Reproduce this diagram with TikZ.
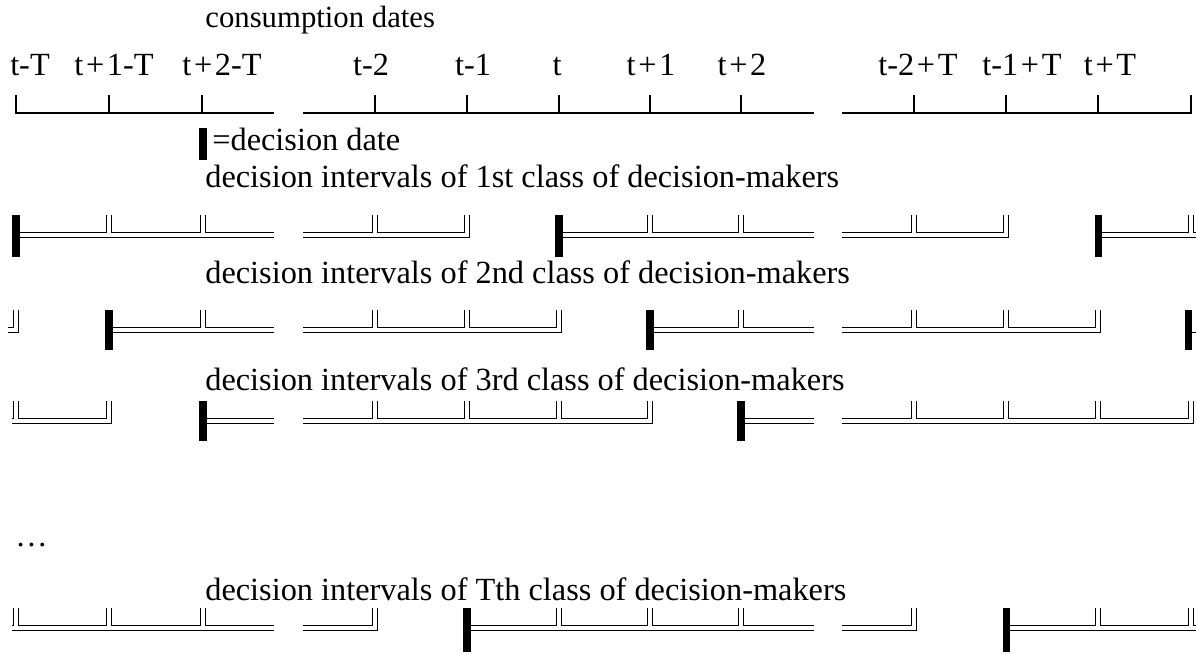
\documentclass[tikz,border=0pt]{standalone}
\usepackage{fontspec}
\setmainfont{Liberation Serif}
\usetikzlibrary{positioning}

\newcommand{\pl}{\kern1.5pt+\kern1.5pt}

\begin{document}
\begin{tikzpicture}[
    x=0.02cm, y=-0.02cm,
    every node/.style={font=\fontsize{18.4}{22}\selectfont, inner sep=0pt},
    datelabel/.style={anchor=base},
    rowlabel/.style={anchor=base west},
    axis/.style={line width=0.8pt},
    interval/.style={double, double distance=2pt, line width=0.7pt},
    decision/.style={line width=4pt}
]
\useasboundingbox (0,0) rectangle (1196,654);

% Consumption dates
\node[rowlabel, font=\fontsize{17.5}{21}\selectfont] (cons) at (205,27) {consumption dates};
\node[datelabel] (d1) at (30,75) {t-T};
\node[datelabel] (d2) at (114,75) {t\pl 1-T};
\node[datelabel] (d3) at (222,75) {t\pl 2-T};
\node[datelabel] (d4) at (371,75) {t-2};
\node[datelabel] (d5) at (473,75) {t-1};
\node[datelabel] (d6) at (557,75) {t};
\node[datelabel] (d7) at (651,75) {t\pl 1};
\node[datelabel] (d8) at (742,75) {t\pl 2};
\node[datelabel] (d9) at (918,75) {t-2\pl T};
\node[datelabel] (d10) at (1022,75) {t-1\pl T};
\node[datelabel] (d11) at (1110,75) {t\pl T};
\draw[axis] (16,95) -- (16,113) -- (274,113) foreach \x in {109,202} {(\x,113) -- (\x,95)};
\draw[axis] (303,113) -- (814,113) foreach \x in {375,467,559,650,741} {(\x,113) -- (\x,95)};
\draw[axis] (842,113) -- (1191,113) -- (1191,95) foreach \x in {914,1006,1098} {(\x,113) -- (\x,95)};

% Legend
\draw[decision] (203,128) -- (203,160);
\node[rowlabel] (legend) at (212,150) {=decision date};

% Class 1
\node[rowlabel] (class1) at (205,187) {decision intervals of 1st class of decision-makers};
\draw[interval] (16,235) -- (274,235) foreach \x in {109,203} {(\x,235) -- (\x,215)};
\draw[interval] (303,235) -- (467,235) -- (467,215) (375,235) -- (375,215);
\draw[interval] (559,235) -- (814,235) foreach \x in {650,741} {(\x,235) -- (\x,215)};
\draw[interval] (842,235) -- (1006,235) -- (1006,215) (914,235) -- (914,215);
\draw[interval] (1098,235) -- (1200,235) (1191,235) -- (1191,215);
\foreach \x in {16,559,1098} \draw[decision] (\x,215) -- (\x,257);

% Class 2
\node[rowlabel] (class2) at (205,283) {decision intervals of 2nd class of decision-makers};
\draw[interval] (8,330) -- (16,330) -- (16,310);
\draw[interval] (109,330) -- (274,330) (203,330) -- (203,310);
\draw[interval] (303,330) -- (559,330) -- (559,310) foreach \x in {375,467} {(\x,330) -- (\x,310)};
\draw[interval] (650,330) -- (814,330) (741,330) -- (741,310);
\draw[interval] (842,330) -- (1098,330) -- (1098,310) foreach \x in {914,1006} {(\x,330) -- (\x,310)};
\draw[interval] (1188,330) -- (1200,330) (1194,330) -- (1194,320);
\foreach \x in {109,650,1188} \draw[decision] (\x,310) -- (\x,350);

% Class 3
\node[rowlabel] (class3) at (205,390) {decision intervals of 3rd class of decision-makers};
\draw[interval] (12,421) -- (109,421) -- (109,401) (16,421) -- (16,401);
\draw[interval] (203,421) -- (274,421);
\draw[interval] (303,421) -- (650,421) -- (650,401) foreach \x in {375,467,559} {(\x,421) -- (\x,401)};
\draw[interval] (741,421) -- (814,421);
\draw[interval] (842,421) -- (1191,421) -- (1191,401) foreach \x in {914,1006,1098} {(\x,421) -- (\x,401)};
\foreach \x in {203,741} \draw[decision] (\x,401) -- (\x,441);

\node[rowlabel] (dots) at (15,546) {\dots};

% Class T
\node[rowlabel] (classT) at (205,600) {decision intervals of Tth class of decision-makers};
\draw[interval] (12,628) -- (274,628) foreach \x in {16,109,203} {(\x,628) -- (\x,608)};
\draw[interval] (303,628) -- (375,628) -- (375,608);
\draw[interval] (467,628) -- (814,628) foreach \x in {559,650,741} {(\x,628) -- (\x,608)};
\draw[interval] (842,628) -- (914,628) -- (914,608);
\draw[interval] (1006,628) -- (1200,628) foreach \x in {1098,1191} {(\x,628) -- (\x,608)};
\foreach \x in {467,1006} \draw[decision] (\x,608) -- (\x,652);

\end{tikzpicture}
\end{document}
